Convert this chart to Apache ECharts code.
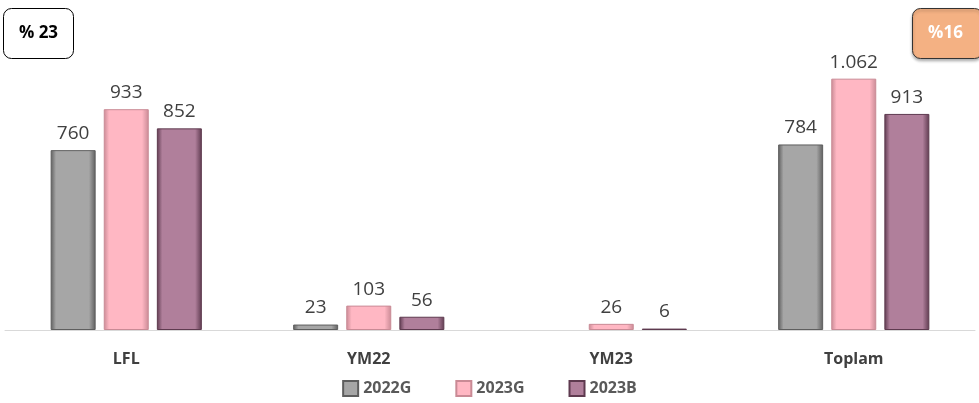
<!DOCTYPE html>
<html>
<head>
<meta charset="utf-8">
<script src="https://cdn.jsdelivr.net/npm/echarts@6/dist/echarts.min.js"></script>
<style>
  html, body { margin: 0; padding: 0; background: #fff; }
  #chart { width: 979px; height: 403px; }
</style>
</head>
<body>
<div id="chart"></div>
<script>
const categories = ['LFL', 'YM22', 'YM23', 'Toplam']
const seriesNames = ['2022G', '2023G', '2023B']
const values2022G = [760, 23, null, 784]
const values2023G = [933, 103, 26, 1062]
const values2023B = [852, 56, 6, 913]
const leftBadge = '% 23'
const rightBadge = '%16'

// light, mid, dark tones for the bevel look
const tones = [
  ['#c8c8c8', '#a6a6a6', '#5e5e5e'],
  ['#ffd3db', '#ffb7c3', '#c98a95'],
  ['#d3a6bf', '#b07f9b', '#5e3a4f']
]

function bevel(t) {
  return new echarts.graphic.LinearGradient(0, 0, 1, 0, [
    { offset: 0, color: t[2] },
    { offset: 0.12, color: t[1] },
    { offset: 0.5, color: t[1] },
    { offset: 0.85, color: t[1] },
    { offset: 1, color: t[2] }
  ])
}

function fmt(v) {
  return v >= 1000 ? String(v).replace(/\B(?=(\d{3})+(?!\d))/g, '.') : String(v)
}

const chart = echarts.init(document.getElementById('chart'), null, { renderer: 'canvas' })

const data = [values2022G, values2023G, values2023B]

chart.setOption({
  animation: false,
  backgroundColor: '#fff',
  grid: { left: 5, right: 4, top: 46, bottom: 73 },
  legend: {
    bottom: 1,
    left: 'center',
    itemGap: 44,
    itemWidth: 15,
    itemHeight: 15,
    textStyle: { color: '#595959', fontSize: 16, fontWeight: 'bold', fontFamily: 'Open Sans' },
    data: seriesNames.map((n, i) => ({ name: n, icon: 'rect', itemStyle: { color: tones[i][1] } }))
  },
  xAxis: {
    type: 'category',
    data: categories,
    axisLine: { lineStyle: { color: '#d9d9d9', width: 1 } },
    axisTick: { show: false },
    axisLabel: { color: '#404040', fontSize: 16, fontWeight: 'bold', fontFamily: 'Open Sans', margin: 21 }
  },
  yAxis: {
    type: 'value',
    min: 0,
    max: 1200,
    show: false,
    splitLine: { show: false }
  },
  series: seriesNames.map((n, i) => ({
    name: n,
    type: 'bar',
    barWidth: 45,
    barGap: '18%',
    data: data[i],
    itemStyle: {
      color: bevel(tones[i]),
      borderColor: tones[i][2],
      borderWidth: 1
    },
    label: {
      show: true,
      position: 'top',
      distance: 7,
      color: '#404040',
      fontSize: 19,
      fontFamily: 'Open Sans',
      formatter: p => fmt(p.value)
    }
  })),
  graphic: [
    {
      type: 'group', left: 3, top: 8,
      children: [
        { type: 'rect', shape: { width: 70, height: 50, r: 8 }, style: { fill: '#fff', stroke: '#000', lineWidth: 1 } },
        { type: 'text', x: 35, y: 25, style: { text: leftBadge, fill: '#000', font: 'bold 17px "Open Sans"', align: 'center', verticalAlign: 'middle' } }
      ]
    },
    {
      type: 'group', left: 912, top: 8,
      children: [
        { type: 'rect', shape: { width: 70, height: 50, r: 8 }, style: { fill: '#f4b183', stroke: '#333', lineWidth: 1, shadowBlur: 3, shadowColor: 'rgba(0,0,0,0.3)', shadowOffsetY: 2 } },
        { type: 'text', x: 33, y: 25, style: { text: rightBadge, fill: '#fff', font: 'bold 17px "Open Sans"', align: 'center', verticalAlign: 'middle' } }
      ]
    }
  ]
})
</script>
</body>
</html>
